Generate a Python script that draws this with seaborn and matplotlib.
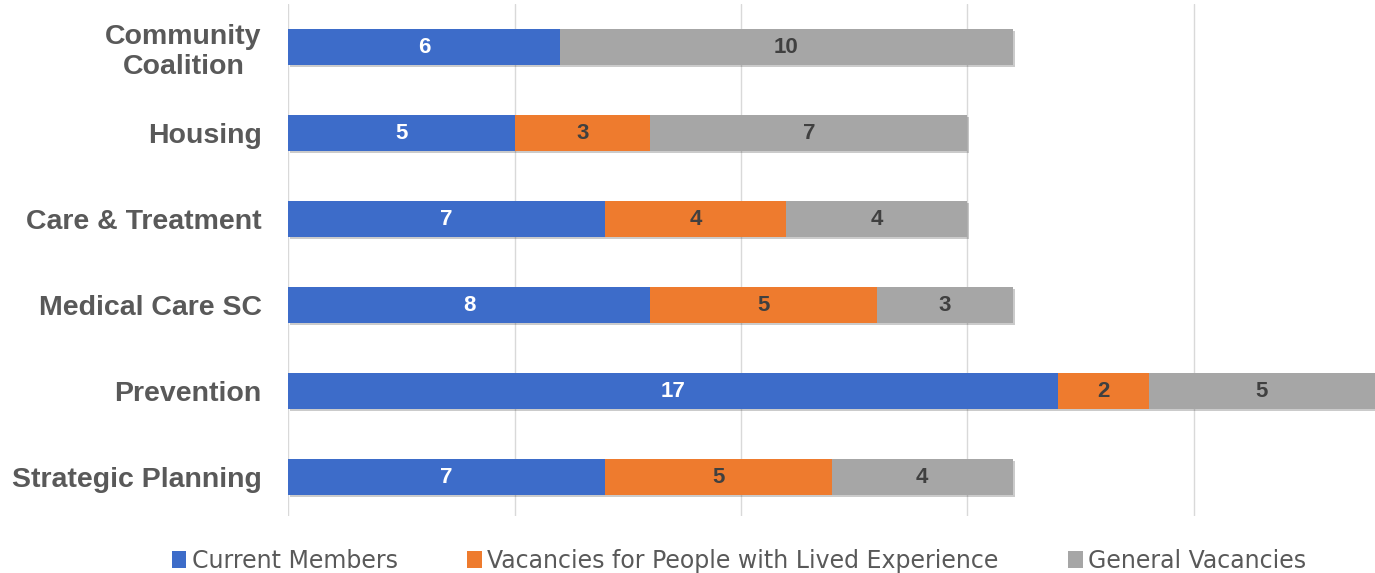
import matplotlib
matplotlib.use("Agg")
import matplotlib.pyplot as plt
import matplotlib.patheffects as pe
import pandas as pd
import seaborn as sns
from matplotlib.patches import Patch

# chart data
committees = ["Community\nCoalition", "Housing", "Care & Treatment",
              "Medical Care SC", "Prevention", "Strategic Planning"]
current_members = [6, 5, 7, 8, 17, 7]
lived_vacancies = [0, 3, 4, 5, 2, 5]
general_vacancies = [10, 7, 4, 3, 5, 4]
series_names = ["Current Members", "Vacancies for People with Lived Experience",
                "General Vacancies"]

colors = ["#3D6CC9", "#EE7B2E", "#A6A6A6"]
label_colors = ["white", "#404040", "#404040"]

df = pd.DataFrame({
    "Committee": committees,
    "Current": current_members,
    "Lived": lived_vacancies,
    "General": general_vacancies,
})
# cumulative totals so the bars can be drawn back to front
df["c1"] = df["Current"]
df["c2"] = df["Current"] + df["Lived"]
df["c3"] = df["c2"] + df["General"]

sns.set_theme(style="white")
plt.rcParams["font.family"] = ["Liberation Sans", "DejaVu Sans"]

fig = plt.figure(figsize=(13.75, 5.73), dpi=100)
ax = fig.add_axes([0.2095, 0.0995, 0.7905, 0.8935])

shadow = [pe.SimplePatchShadow(offset=(1.5, -1.5), alpha=0.25), pe.Normal()]
for col, color in zip(["c3", "c2", "c1"], colors[::-1]):
    sns.barplot(data=df, x=col, y="Committee", orient="h", color=color,
                width=0.42, saturation=1, ax=ax, linewidth=0,
                path_effects=shadow if col == "c3" else None)

# segment labels
segments = [df["Current"], df["Lived"], df["General"]]
starts = [[0] * len(df), df["c1"], df["c2"]]
for seg, start, lc in zip(segments, starts, label_colors):
    for i, (v, s) in enumerate(zip(seg, start)):
        if v == 0:
            continue
        ax.text(s + v / 2, i, str(v), ha="center", va="center",
                color=lc, fontsize=16, fontweight="bold")

ax.set_xlim(0, 24)
ax.set_ylim(5.45, -0.5)
ax.set_xticks([0, 5, 10, 15, 20])
ax.set_xticklabels([])
ax.grid(axis="x", color="#D9D9D9", linewidth=1)
ax.grid(axis="y", visible=False)
ax.set_axisbelow(True)
for sp in ax.spines.values():
    sp.set_visible(False)
ax.set_xlabel("")
ax.set_ylabel("")
ax.tick_params(axis="y", length=0, pad=19)
ax.tick_params(axis="x", length=0)
for lab in ax.get_yticklabels():
    lab.set_fontsize(20.5)
    lab.set_fontweight("bold")
    lab.set_color("#595959")
    lab.set_multialignment("center")

handles = [Patch(facecolor=c, edgecolor="none") for c in colors]
fig.legend(handles, series_names, loc="center", bbox_to_anchor=(0.5375, 0.021),
           ncol=3, frameon=False, handlelength=0.63, handleheight=0.75,
           handletextpad=0.22, columnspacing=2.95,
           prop={"family": ["DejaVu Sans"], "size": 17},
           labelcolor="#595959")

fig.savefig("out.png", dpi=100)
